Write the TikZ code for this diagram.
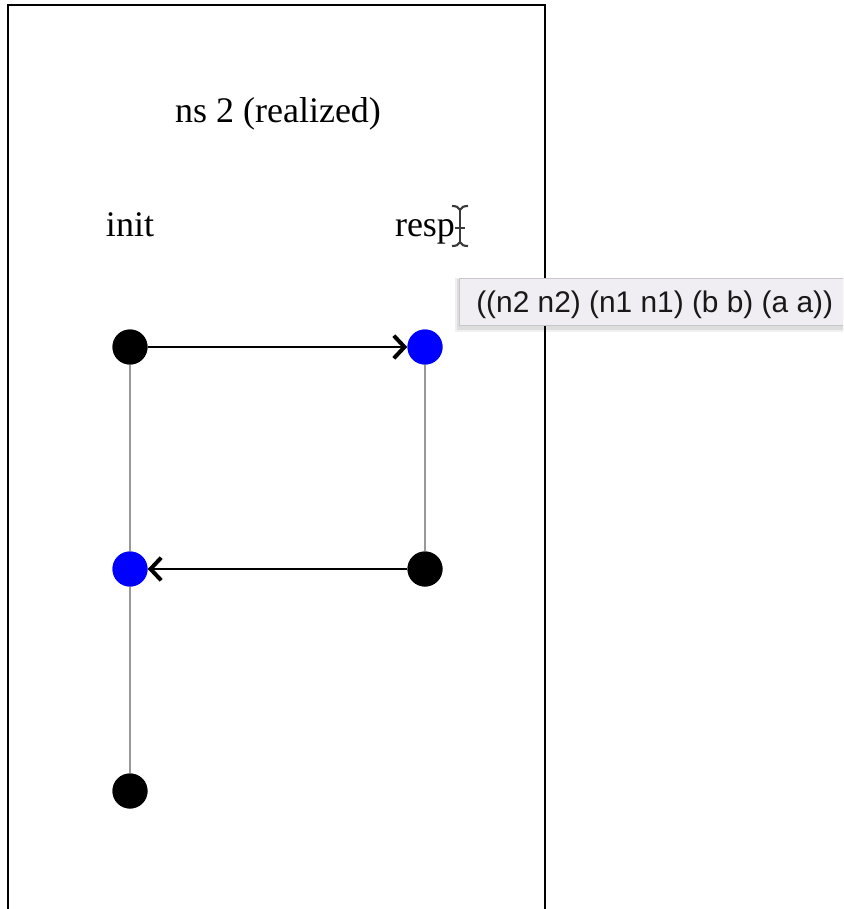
\documentclass[tikz,border=0pt]{standalone}
\usepackage{fontspec}
\setmainfont{Liberation Serif}
\newfontfamily\tipfont{Liberation Sans}
\usetikzlibrary{arrows.meta}
\definecolor{tipfill}{HTML}{F1EEF3}
\definecolor{tipedge}{HTML}{C8C6CA}
\definecolor{cursorgray}{HTML}{3A3A3A}
\definecolor{lifegray}{HTML}{999999}
\tikzset{
  blackdot/.style={circle,fill=black,minimum size=35*0.75pt,inner sep=0pt},
  bluedot/.style={circle,fill=blue,minimum size=35*0.75pt,inner sep=0pt},
  lifeline/.style={draw=lifegray,line width=1.6pt},
  msg/.style={draw=black,line width=2pt,-{Straight Barb[length=8pt,width=17pt,line width=3pt]}},
  label/.style={font=\fontsize{27}{30}\selectfont,inner sep=0pt,anchor=base},
}
\begin{document}
\begin{tikzpicture}[x=0.75pt,y=-0.75pt]
\clip (0,0) rectangle (843,909);
\useasboundingbox (0,0) rectangle (843,909);
\fill[white] (0,0) rectangle (843,909);
% frame
\draw[line width=1.9pt] (8,5) rectangle (545,940);
% texts
\node[label] (title) at (278,123) {ns 2 (realized)};
\node[label] (init) at (130,237) {init};
\node[label] (resp) at (425,237) {resp};
% text cursor
\draw[cursorgray,line width=1.8pt] (460,208) -- (460,244);
\draw[cursorgray,line width=1.6pt] (452,206) .. controls (456,206) and (459,207) .. (460,210) .. controls (461,207) and (464,206) .. (468,206);
\draw[cursorgray,line width=1.6pt] (452,246) .. controls (456,246) and (459,245) .. (460,242) .. controls (461,245) and (464,246) .. (468,246);
\draw[cursorgray,line width=1.4pt] (455,228) -- (465,228);
% nodes
\node[blackdot] (a1) at (130,347) {};
\node[bluedot]  (b1) at (425,347) {};
\node[blackdot] (b2) at (425,569) {};
\node[bluedot]  (a2) at (130,569) {};
\node[blackdot] (a3) at (130,791) {};
% lifelines
\draw[lifeline] (a1.center) -- (a2.center) -- (a3.center);
\draw[lifeline] (b1.center) -- (b2.center);
% redraw dots on top
\node[blackdot] at (a1) {};
\node[bluedot]  at (b1) {};
\node[blackdot] at (b2) {};
\node[bluedot]  at (a2) {};
\node[blackdot] at (a3) {};
% messages
\draw[msg] (a1) -- (b1);
\draw[msg] (b2) -- (a2);
% tooltip
\fill[black,opacity=0.08] (457,279) rectangle (860,330);
\fill[black,opacity=0.06] (455,278) rectangle (860,332);
\node[draw=tipedge,fill=tipfill,line width=0.8pt,anchor=north west,minimum height=47*0.75pt,minimum width=400*0.75pt,inner sep=0pt] (tip) at (459,278) {};
\node[anchor=base west,inner sep=0pt,text=black!90,font=\tipfont\fontsize{22.4}{26}\selectfont] (tiptext) at (476,312) {((n2 n2) (n1 n1) (b b) (a a))};
\end{tikzpicture}
\end{document}
